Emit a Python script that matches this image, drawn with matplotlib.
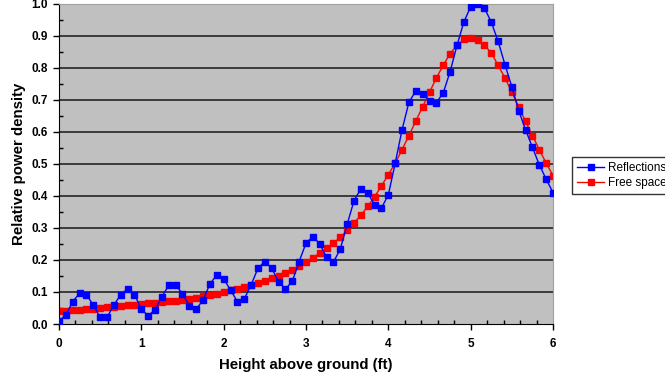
import matplotlib
matplotlib.use("Agg")
import matplotlib.pyplot as plt
from matplotlib.ticker import MultipleLocator, FormatStrFormatter

plt.rcParams['font.family'] = ['Liberation Sans', 'DejaVu Sans']

# heights in inches, 0..72 -> feet
heights = [i / 12.0 for i in range(73)]

reflections = [
    0.010, 0.028, 0.070, 0.096, 0.092, 0.059, 0.021, 0.021, 0.059, 0.092,
    0.110, 0.092, 0.046, 0.026, 0.044, 0.085, 0.121, 0.121, 0.095, 0.056,
    0.046, 0.075, 0.125, 0.153, 0.141, 0.106, 0.070, 0.078, 0.122, 0.174,
    0.195, 0.174, 0.132, 0.109, 0.133, 0.195, 0.252, 0.273, 0.250, 0.208,
    0.193, 0.234, 0.311, 0.385, 0.422, 0.408, 0.372, 0.362, 0.403, 0.502,
    0.606, 0.692, 0.727, 0.718, 0.696, 0.691, 0.721, 0.787, 0.869, 0.942,
    0.990, 1.000, 0.986, 0.942, 0.882, 0.809, 0.740, 0.666, 0.606, 0.551,
    0.497, 0.452, 0.410,
]

free_space = [
    0.041, 0.042, 0.044, 0.045, 0.046, 0.048, 0.050, 0.052, 0.053, 0.055,
    0.058, 0.060, 0.063, 0.065, 0.067, 0.069, 0.071, 0.073, 0.076, 0.079,
    0.082, 0.086, 0.090, 0.095, 0.100, 0.105, 0.110, 0.116, 0.122, 0.128,
    0.135, 0.142, 0.150, 0.160, 0.170, 0.181, 0.193, 0.207, 0.221, 0.236,
    0.252, 0.271, 0.292, 0.315, 0.340, 0.367, 0.397, 0.431, 0.466, 0.502,
    0.544, 0.588, 0.633, 0.678, 0.723, 0.768, 0.807, 0.844, 0.869, 0.888,
    0.893, 0.886, 0.870, 0.846, 0.807, 0.768, 0.723, 0.677, 0.632, 0.588,
    0.544, 0.502, 0.463,
]

fig = plt.figure(figsize=(6.65, 3.81), dpi=100)
ax = fig.add_axes([0.0887, 0.1496, 0.7429, 0.8412])
ax.set_facecolor('#c0c0c0')

for y in [0.1 * i for i in range(1, 10)]:
    ax.axhline(y, color='#303030', lw=1.3, zorder=1)

ax.plot(heights, reflections, color='#0000ff', lw=1, marker='s', markersize=3.8,
        label='Reflections', zorder=3)
ax.plot(heights, free_space, color='#ff0000', lw=1, marker='s', markersize=3.8,
        label='Free space', zorder=2)

ax.set_xlim(0, 6)
ax.set_ylim(0, 1.0)
ax.xaxis.set_major_locator(MultipleLocator(1))
ax.xaxis.set_minor_locator(MultipleLocator(0.2))
ax.yaxis.set_major_locator(MultipleLocator(0.1))
ax.yaxis.set_minor_locator(MultipleLocator(0.05))
ax.yaxis.set_major_formatter(FormatStrFormatter('%.1f'))

ax.tick_params(which='major', direction='out', length=4, width=1, labelsize=8.5)
ax.tick_params(which='minor', direction='in', length=3, width=1)
ax.tick_params(axis='x', pad=6)
ax.tick_params(axis='y', pad=4)
for lab in ax.get_xticklabels() + ax.get_yticklabels():
    lab.set_fontweight('bold')

ax.spines['left'].set_color('black')
ax.spines['bottom'].set_color('black')
ax.spines['top'].set_color('#a0a0a0')
ax.spines['right'].set_color('#a0a0a0')

ax.set_xlabel('Height above ground (ft)', fontsize=10.8, fontweight='semibold', labelpad=6)
ax.set_ylabel('Relative power density', fontsize=10.8, fontweight='semibold', labelpad=4)

leg = fig.legend(loc='upper left', bbox_to_anchor=(0.852, 0.603), fontsize=8.5,
                 frameon=True, fancybox=False, edgecolor='black',
                 handlelength=2.3, borderpad=0.4, labelspacing=0.3,
                 handletextpad=0.3)
leg.get_frame().set_linewidth(1)

fig.savefig('out.png', dpi=100)
